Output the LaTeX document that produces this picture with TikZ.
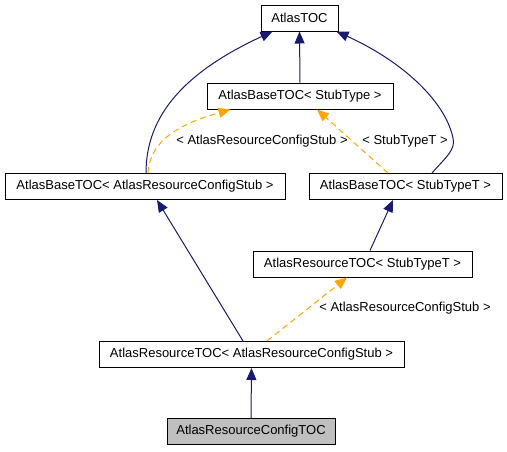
\documentclass[tikz,border=0pt]{standalone}
\usepackage{fontspec}
\setmainfont{Liberation Sans}
\usepackage{xcolor}
\usepackage{tikz}
\usetikzlibrary{arrows.meta}

\definecolor{inhblue}{HTML}{191970}
\definecolor{tmplorange}{HTML}{FFA500}
\definecolor{focusgray}{HTML}{BFBFBF}

\begin{document}
\begin{tikzpicture}[
  x=1pt,y=-1pt,
  font=\fontsize{13}{15}\selectfont,
  cls/.style={draw,fill=white,minimum height=26pt,inner sep=0pt,line width=1pt},
  focus/.style={cls,fill=focusgray},
  inherit/.style={-{Triangle[length=12pt,width=10pt,fill=inhblue]},draw=inhblue,line width=1pt},
  tmpl/.style={-{Triangle[length=12pt,width=10pt,fill=tmplorange]},draw=tmplorange,line width=1pt,
               dash pattern=on 6pt off 4pt},
  lbl/.style={inner sep=1pt}
]
\useasboundingbox (0,0) rectangle (507,451);

\node[cls,minimum width=77pt] (toc) at (299.5,18) {AtlasTOC};
\node[cls,minimum width=186pt] (basestub) at (300,96) {AtlasBaseTOC< StubType >};
\node[cls,minimum width=280pt] (basecfg) at (145,186.5) {AtlasBaseTOC< AtlasResourceConfigStub >};
\node[cls,minimum width=193pt] (basestubt) at (405.5,186.5) {AtlasBaseTOC< StubTypeT >};
\node[cls,minimum width=219pt] (resstubt) at (362.5,264) {AtlasResourceTOC< StubTypeT >};
\node[cls,minimum width=305pt] (rescfg) at (251.5,354.5) {AtlasResourceTOC< AtlasResourceConfigStub >};
\node[focus,minimum width=168pt] (cfgtoc) at (251,431.5) {AtlasResourceConfigTOC};

% inheritance
\draw[inherit] (basestub.north)--(toc.south);
\draw[inherit] ([xshift=1pt]basecfg.north) .. controls (146,115) and (185,72) .. ([xshift=12pt]toc.south west);
\draw[inherit] ([xshift=26.5pt]basestubt.north) .. controls (445,158) and (456,150) .. (453,138)
  .. controls (445,100) and (400,60) .. ([xshift=-2pt]toc.south east);
\draw[inherit] ([xshift=-8.5pt]rescfg.north) -- ([xshift=12pt]basecfg.south);
\draw[inherit] ([xshift=7.5pt]resstubt.north) -- ([xshift=-12.5pt]basestubt.south);
\draw[inherit] (cfgtoc.north) -- (rescfg.south);

% template instances
\draw[tmpl] ([xshift=3pt]basecfg.north) .. controls (150,140) and (180,124) .. ([xshift=24pt]basestub.south west);
\draw[tmpl] ([xshift=-17.5pt]basestubt.north) -- ([xshift=17pt]basestub.south);
\draw[tmpl] ([xshift=15.5pt]rescfg.north) -- ([xshift=-15.5pt]resstubt.south);

\node[lbl] (lblcfga) at (262,141) {< AtlasResourceConfigStub >};
\node[lbl] (lblstubt) at (405,141) {< StubTypeT >};
\node[lbl] (lblcfgb) at (405,308.5) {< AtlasResourceConfigStub >};
\end{tikzpicture}
\end{document}
